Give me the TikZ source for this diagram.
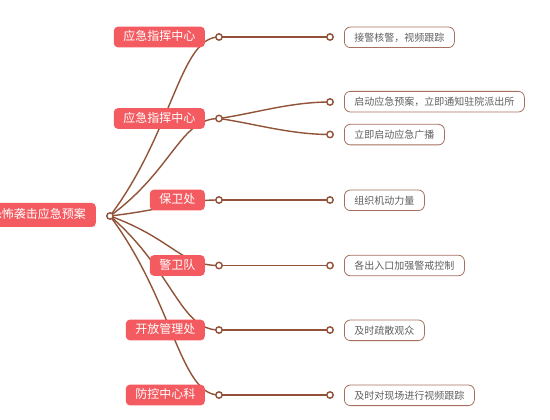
\documentclass[tikz,border=0pt]{standalone}
\usepackage{fontspec}
\setmainfont{Noto Sans CJK SC}
\usetikzlibrary{backgrounds}
\definecolor{linebrown}{RGB}{145,82,55}
\definecolor{nodered}{RGB}{243,91,96}
\definecolor{leafborder}{RGB}{165,112,95}
\definecolor{leaftext}{RGB}{95,95,95}
\begin{document}
\begin{tikzpicture}[x=1pt,y=-1pt,
  rootbox/.style={fill=nodered,rounded corners=4pt,text=white,inner xsep=10pt,inner ysep=0pt,
    minimum height=24pt,text height=0.88em,text depth=0.12em,font=\fontsize{12}{14}\selectfont,anchor=east},
  topicbox/.style={fill=nodered,rounded corners=4pt,text=white,inner xsep=9.5pt,inner ysep=0pt,
    minimum height=20.6pt,text height=0.88em,text depth=0.12em,font=\fontsize{12}{14}\selectfont,anchor=east},
  leafbox/.style={draw=leafborder,line width=0.8pt,fill=white,rounded corners=6pt,text=leaftext,inner xsep=10pt,inner ysep=0pt,
    minimum height=20.6pt,text height=0.88em,text depth=0.12em,font=\fontsize{10}{12}\selectfont,anchor=west},
  knob/.style={circle,draw=linebrown,line width=1.4pt,fill=white,inner sep=0pt,minimum size=6.4pt},
  branch/.style={draw=linebrown,line width=1.4pt}]
\useasboundingbox (0,0) rectangle (550,420);
% root
\node[rootbox] (root) at (96,215) {恐怖袭击应急预案};
\node[knob] (rk) at (110,216) {};
% main topics
\node[topicbox] (t1) at (205,37) {应急指挥中心};
\node[topicbox] (t2) at (205,118.5) {应急指挥中心};
\node[topicbox] (t3) at (205,200) {保卫处};
\node[topicbox] (t4) at (205,265.5) {警卫队};
\node[topicbox] (t5) at (205,330) {开放管理处};
\node[topicbox] (t6) at (205,395) {防控中心科};
\node[knob] (k1) at (219,37) {};
\node[knob] (k2) at (219,118.5) {};
\node[knob] (k3) at (219,200) {};
\node[knob] (k4) at (219,265.5) {};
\node[knob] (k5) at (219,330) {};
\node[knob] (k6) at (219,395) {};
% leaves
\node[knob] (m1) at (330,37) {};
\node[knob] (m2) at (330,102) {};
\node[knob] (m3) at (330,134.5) {};
\node[knob] (m4) at (330,200) {};
\node[knob] (m5) at (330,265.5) {};
\node[knob] (m6) at (330,330) {};
\node[knob] (m7) at (330,395) {};
\node[leafbox] (l1) at (344,37.3) {接警核警，视频跟踪};
\node[leafbox] (l2) at (344,101.7) {启动应急预案，立即通知驻院派出所};
\node[leafbox] (l3) at (344,134.6) {立即启动应急广播};
\node[leafbox] (l4) at (344,200.3) {组织机动力量};
\node[leafbox] (l5) at (344,265.5) {各出入口加强警戒控制};
\node[leafbox] (l6) at (344,330.3) {及时疏散观众};
\node[leafbox] (l7) at (344,395.3) {及时对现场进行视频跟踪};
\begin{pgfonlayer}{background}
\draw[branch] (rk.center) .. controls +(63,-84) and +(-39,0) .. (k1.center);
\draw[branch] (rk.center) .. controls +(63,-46) and +(-39,0) .. (k2.center);
\draw[branch] (rk.center) .. controls +(63,-7.5) and +(-39,0) .. (k3.center);
\draw[branch] (rk.center) .. controls +(63,23) and +(-39,0) .. (k4.center);
\draw[branch] (rk.center) .. controls +(63,54) and +(-39,0) .. (k5.center);
\draw[branch] (rk.center) .. controls +(63,84) and +(-39,0) .. (k6.center);
\draw[branch] (k1.center) -- (m1.center);
\draw[branch] (k2.center) .. controls +(35,-5) and +(-40,0) .. (m2.center);
\draw[branch] (k2.center) .. controls +(35,5) and +(-40,0) .. (m3.center);
\draw[branch] (k3.center) -- (m4.center);
\draw[branch] (k4.center) -- (m5.center);
\draw[branch] (k5.center) -- (m6.center);
\draw[branch] (k6.center) -- (m7.center);
\end{pgfonlayer}
\end{tikzpicture}
\end{document}
